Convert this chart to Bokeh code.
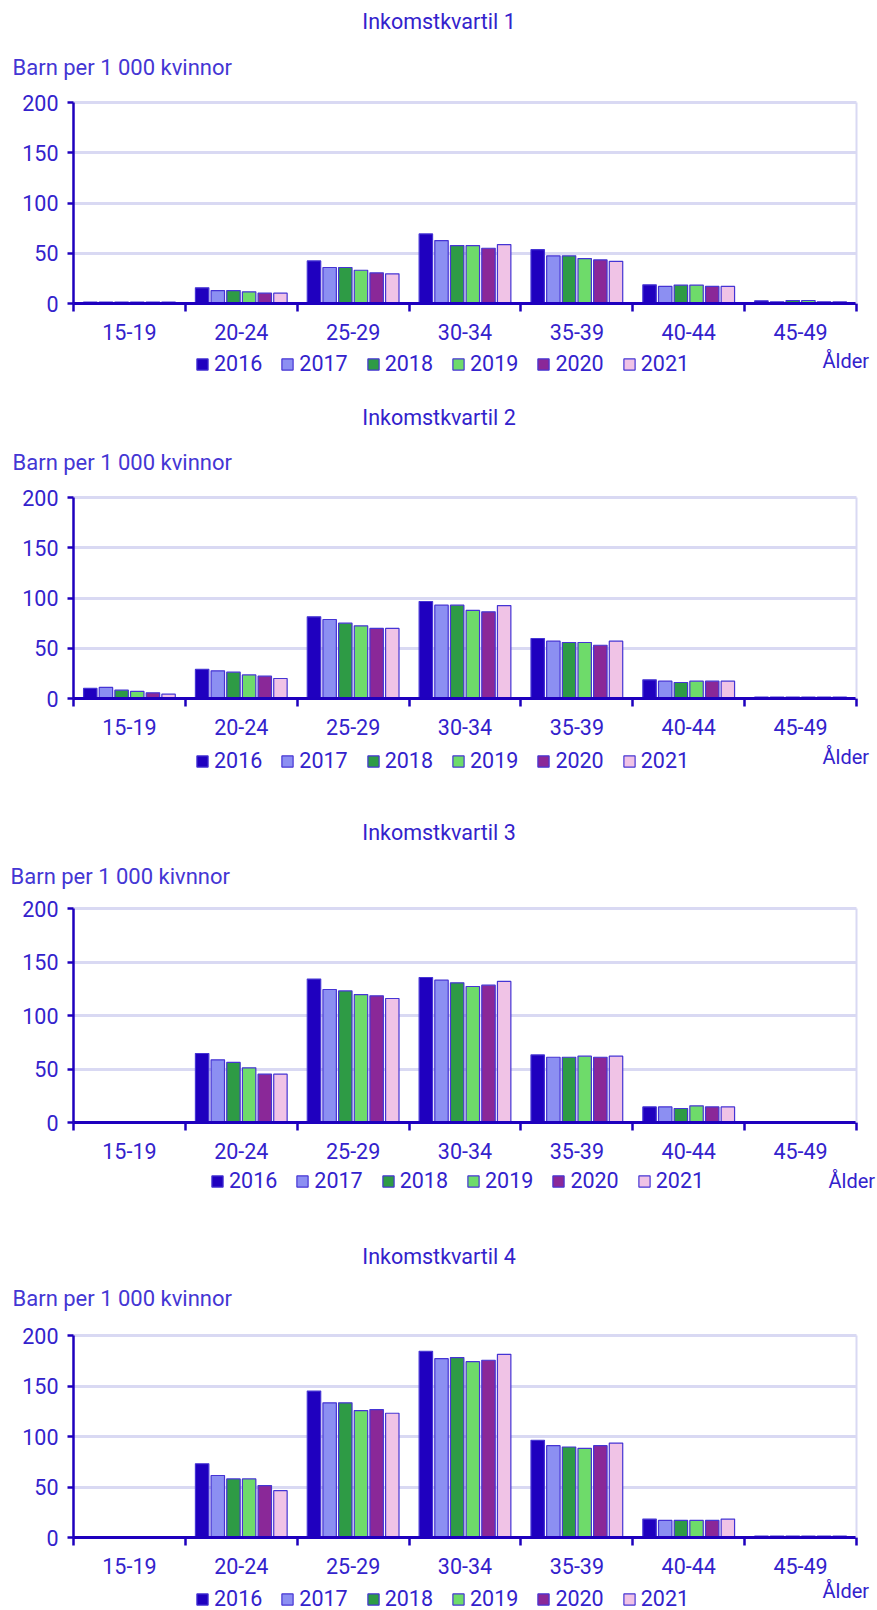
from bokeh.plotting import figure
from bokeh.models import Range1d, FixedTicker, Label, Legend, LegendItem, LinearAxis
from bokeh.layouts import column
from bokeh.embed import file_html
from bokeh.resources import INLINE

# ---------------- data ----------------
ages = ["15-19", "20-24", "25-29", "30-34", "35-39", "40-44", "45-49"]
years = ["2016", "2017", "2018", "2019", "2020", "2021"]
y_ticks = [0, 50, 100, 150, 200]
Y_MAX = 200
titles = ["Inkomstkvartil 1", "Inkomstkvartil 2", "Inkomstkvartil 3", "Inkomstkvartil 4"]
y_labels = ["Barn per 1 000 kvinnor", "Barn per 1 000 kvinnor",
            "Barn per 1 000 kivnnor", "Barn per 1 000 kvinnor"]
x_label = "Ålder"

q1 = {
    "2016": [1.5, 15.6, 42.4, 69.2, 53.6, 18.6, 2.7],
    "2017": [1.5, 12.9, 35.8, 62.6, 47.4, 17.0, 1.7],
    "2018": [1.5, 12.9, 35.8, 57.6, 47.4, 18.3, 3.0],
    "2019": [1.5, 11.6, 33.1, 57.6, 44.7, 18.3, 3.0],
    "2020": [1.5, 10.3, 30.5, 55.0, 43.4, 17.0, 1.7],
    "2021": [1.5, 10.3, 29.5, 58.6, 42.0, 17.0, 1.7],
}
q2 = {
    "2016": [10.0, 28.9, 81.3, 96.5, 59.7, 18.6, 1.5],
    "2017": [11.0, 27.5, 78.6, 92.9, 57.0, 17.2, 1.5],
    "2018": [8.3, 26.2, 75.0, 92.9, 55.7, 15.9, 1.5],
    "2019": [7.0, 23.5, 72.3, 87.6, 55.7, 17.2, 1.5],
    "2020": [5.6, 22.2, 69.7, 86.2, 53.0, 17.2, 1.5],
    "2021": [4.3, 19.9, 69.7, 92.5, 57.0, 17.2, 1.5],
}
q3 = {
    "2016": [0, 64.5, 134.0, 135.5, 63.2, 14.6, 0],
    "2017": [0, 58.6, 124.3, 133.0, 61.0, 14.6, 0],
    "2018": [0, 56.1, 123.0, 130.5, 61.0, 13.1, 0],
    "2019": [0, 51.1, 119.6, 127.1, 62.0, 15.6, 0],
    "2020": [0, 45.2, 118.4, 128.3, 61.0, 14.6, 0],
    "2021": [0, 45.2, 115.9, 131.8, 62.0, 14.6, 0],
}
q4 = {
    "2016": [0, 73.0, 145.0, 184.4, 96.2, 18.2, 1.5],
    "2017": [0, 61.4, 133.3, 177.1, 90.9, 16.9, 1.5],
    "2018": [0, 58.0, 133.3, 178.1, 89.6, 16.9, 1.5],
    "2019": [0, 58.0, 125.7, 174.1, 88.2, 16.9, 1.5],
    "2020": [0, 51.4, 126.7, 175.5, 90.9, 16.9, 1.5],
    "2021": [0, 46.4, 123.0, 181.4, 93.5, 18.2, 1.5],
}
quartiles = [q1, q2, q3, q4]

# ---------------- styles ----------------
bar_colors = ["#1F00BF", "#8C8FF2", "#2E9B45", "#6EDB6A", "#8A2898", "#F0C3E6"]
bar_line = "#4534D4"
axis_color = "#1E00BE"
text_color = "#3322CC"
ylab_color = "#4436D4"
grid_color = "#D9D9F3"
FONT = "Roboto"
FS = "21.5px"

PAGE_W = 877
AREA_LEFT = 73      # pixel of x = 0
AREA_RIGHT = 856    # pixel of x = number of age groups
PITCH = 0.14
BAR_W = 0.12
LEG_H = 32

# page-pixel layout of each panel
layouts = [
    dict(top=0, area_top=102, area_bottom=303, bottom=400,
         title_y=21, ylab_x=12, ylab_y=67, leg_x=195, leg_y=360, alder_x=822, alder_y=360),
    dict(top=400, area_top=497, area_bottom=698, bottom=810,
         title_y=417, ylab_x=12, ylab_y=462, leg_x=195, leg_y=757, alder_x=822, alder_y=756),
    dict(top=810, area_top=908, area_bottom=1122, bottom=1213,
         title_y=832, ylab_x=10, ylab_y=876, leg_x=210, leg_y=1177, alder_x=828, alder_y=1180),
    dict(top=1213, area_top=1335, area_bottom=1537, bottom=1610,
         title_y=1256, ylab_x=12, ylab_y=1298, leg_x=195, leg_y=1595, alder_x=822, alder_y=1590),
]


def make_panel(k):
    L = layouts[k]
    data = quartiles[k]
    n = len(ages)
    h = L["bottom"] - L["top"]
    xpp = n / (AREA_RIGHT - AREA_LEFT)
    ypp = Y_MAX / (L["area_bottom"] - L["area_top"])
    x_range = Range1d(-AREA_LEFT * xpp, n + (PAGE_W - AREA_RIGHT) * xpp)
    y_range = Range1d(-(L["bottom"] - L["area_bottom"]) * ypp,
                      Y_MAX + (L["area_top"] - L["top"]) * ypp)

    def sy(page_y):
        return h - (page_y - L["top"])

    p = figure(width=PAGE_W, height=h, x_range=x_range, y_range=y_range,
               output_backend="svg", toolbar_location=None, title=None,
               min_border=0, min_border_left=0, min_border_right=0,
               min_border_top=0, min_border_bottom=0)
    p.background_fill_color = "white"
    p.border_fill_color = "white"
    p.outline_line_color = None

    items = []
    for j, yr in enumerate(years):
        xs = [i + 0.5 + (j - (len(years) - 1) / 2) * PITCH for i in range(n)]
        r = p.vbar(x=xs, top=data[yr], bottom=0, width=BAR_W,
                   fill_color=bar_colors[j], line_color=bar_line, line_width=1.2)
        items.append(LegendItem(label=yr, renderers=[r]))

    # grid
    p.xgrid.grid_line_color = None
    yg = p.ygrid[0]
    yg.grid_line_color = grid_color
    yg.grid_line_width = 3
    if "cross_bounds" in yg.properties():
        yg.cross_bounds = (0, n)

    # y axis, fixed at x = 0
    ya = p.yaxis[0]
    ya.fixed_location = 0
    ya.bounds = (0, Y_MAX)
    ya.ticker = FixedTicker(ticks=y_ticks)
    ya.axis_line_color = axis_color
    ya.axis_line_width = 2.5
    ya.major_tick_line_color = axis_color
    ya.major_tick_line_width = 2.5
    ya.major_tick_out = 6
    ya.major_tick_in = 0
    ya.minor_tick_out = 0
    ya.minor_tick_in = 0
    ya.major_label_standoff = 9
    ya.major_label_text_font = FONT
    ya.major_label_text_font_size = FS
    ya.major_label_text_color = text_color

    # x axis, fixed at y = 0: labels at group centres, ticks between groups
    xa = p.xaxis[0]
    xa.fixed_location = 0
    xa.bounds = (0, n)
    centers = [i + 0.5 for i in range(n)]
    xa.ticker = FixedTicker(ticks=centers, minor_ticks=list(range(n + 1)))
    xa.major_label_overrides = {c: a for c, a in zip(centers, ages)}
    xa.axis_line_color = axis_color
    xa.axis_line_width = 3
    xa.major_tick_out = 0
    xa.major_tick_in = 0
    xa.minor_tick_out = 8
    xa.minor_tick_in = 0
    xa.minor_tick_line_color = axis_color
    xa.minor_tick_line_width = 2.5
    xa.major_label_standoff = 12
    xa.major_label_text_font = FONT
    xa.major_label_text_font_size = FS
    xa.major_label_text_color = text_color

    # right border of the plot area
    rb = LinearAxis(fixed_location=n, bounds=(0, Y_MAX), ticker=FixedTicker(ticks=[]),
                    axis_line_color=grid_color, axis_line_width=2,
                    major_tick_out=0, major_tick_in=0, minor_tick_out=0, minor_tick_in=0)
    p.add_layout(rb, "right")

    # texts
    p.add_layout(Label(x=PAGE_W / 2, y=sy(L["title_y"]), x_units="screen", y_units="screen",
                       text=titles[k], text_font=FONT, text_font_size=FS,
                       text_color=text_color, text_align="center", text_baseline="middle"))
    p.add_layout(Label(x=L["ylab_x"], y=sy(L["ylab_y"]), x_units="screen", y_units="screen",
                       text=y_labels[k], text_font=FONT, text_font_size="22px",
                       text_color=ylab_color, text_align="left", text_baseline="middle"))
    p.add_layout(Label(x=L["alder_x"], y=sy(L["alder_y"]), x_units="screen", y_units="screen",
                       text=x_label, text_font=FONT, text_font_size="20px",
                       text_color=text_color, text_align="left", text_baseline="middle"))

    leg = Legend(items=items, orientation="horizontal",
                 location=(L["leg_x"], sy(L["leg_y"]) - LEG_H / 2),
                 glyph_width=14, glyph_height=14, label_standoff=5, spacing=18,
                 padding=0, margin=0, border_line_alpha=0, background_fill_alpha=0,
                 label_text_font=FONT, label_text_font_size=FS,
                 label_text_color=text_color, label_text_baseline="middle")
    p.add_layout(leg)
    return p


figs = [make_panel(k) for k in range(4)]
layout = column(*figs, spacing=0)
open("out.html", "w").write(file_html(layout, INLINE))
